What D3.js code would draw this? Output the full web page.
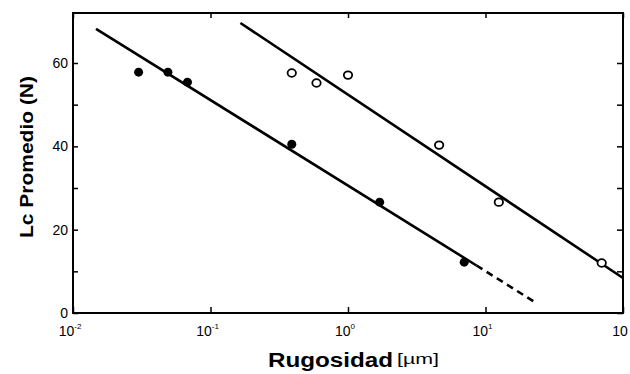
<!DOCTYPE html>
<html>
<head>
<meta charset="utf-8">
<script src="https://cdn.jsdelivr.net/npm/d3@7"></script>
<style>
  body { margin: 0; background: #fff; }
  #chart { width: 630px; height: 374px; }
  text { font-family: "Liberation Sans", Arial, sans-serif; fill: #000; }
</style>
</head>
<body>
<div id="chart"></div>
<script>
// roughness (um) vs average critical load Lc (N)
const filledX = [0.030, 0.049, 0.068, 0.39, 1.7, 7.0];
const filledY = [57.8, 57.8, 55.4, 40.5, 26.6, 12.2];
const openX = [0.39, 0.59, 1.0, 4.6, 12.5, 70];
const openY = [57.6, 55.2, 57.1, 40.3, 26.6, 12.0];

// fitted lines: [start, end] in data units
const fitFilledSolid = [[0.0147, 68.2], [8.6, 11.4]];
const fitFilledDash = [[8.6, 11.4], [23.4, 2.4]];
const fitOpen = [[0.165, 69.6], [100, 8.4]];

const xTicks = [0.01, 0.1, 1, 10, 100];
const xTickSup = ["-2", "-1", "0", "1", ""];
const yTicks = [0, 20, 40, 60];
const yMinor = [10, 30, 50];

var width = 630, height = 374;
var margin = { left: 73, right: 623, top: 13, bottom: 313 };

var svg = d3.select("#chart")
    .append("svg")
    .attr("width", width)
    .attr("height", height);

var xScale = d3.scaleLog().domain([0.01, 100]).range([margin.left, margin.right]);
var yScale = d3.scaleLinear().domain([0, 72]).range([margin.bottom, margin.top]);

// frame
svg.append("rect")
    .attr("x", margin.left).attr("y", margin.top)
    .attr("width", margin.right - margin.left).attr("height", margin.bottom - margin.top)
    .attr("fill", "none").attr("stroke", "#000").attr("stroke-width", 2);

// axes with inward ticks
svg.append("g")
    .attr("transform", `translate(0,${margin.bottom})`)
    .call(d3.axisTop(xScale).tickValues(xTicks).tickSize(6).tickFormat(""))
    .call(g => g.select(".domain").remove())
    .selectAll("line").attr("stroke-width", 1.5);

svg.append("g")
    .attr("transform", `translate(0,${margin.top})`)
    .call(d3.axisBottom(xScale).tickValues(xTicks).tickSize(5).tickFormat(""))
    .call(g => g.select(".domain").remove())
    .selectAll("line").attr("stroke-width", 1.5);

svg.append("g")
    .attr("transform", `translate(${margin.left},0)`)
    .call(d3.axisRight(yScale).tickValues(yTicks.concat(yMinor)).tickSize(5).tickFormat(""))
    .call(g => g.select(".domain").remove())
    .selectAll("line").attr("stroke-width", 1.5);

svg.append("g")
    .attr("transform", `translate(${margin.right},0)`)
    .call(d3.axisLeft(yScale).tickValues(yTicks.concat(yMinor)).tickSize(6).tickFormat(""))
    .call(g => g.select(".domain").remove())
    .selectAll("line").attr("stroke-width", 1.5);

// y tick labels
svg.selectAll(".ylab")
    .data(yTicks)
    .join("text")
    .attr("class", "ylab")
    .attr("x", margin.left - 5)
    .attr("y", d => yScale(d) + 5)
    .attr("text-anchor", "end")
    .attr("font-size", 14)
    .text(d => d);

// x tick labels 10^n
var xl = svg.selectAll(".xlab")
    .data(xTicks)
    .join("text")
    .attr("class", "xlab")
    .attr("x", d => xScale(d) - 3)
    .attr("y", margin.bottom + 23)
    .attr("text-anchor", "middle")
    .attr("font-size", 14);
xl.append("tspan").text("10");
xl.append("tspan")
    .attr("dy", -7)
    .attr("font-size", 8)
    .text((d, i) => xTickSup[i]);

// fitted lines
var line = d3.line()
    .x(d => xScale(d[0]))
    .y(d => yScale(d[1]));

svg.append("path").datum(fitFilledSolid).attr("d", line)
    .attr("stroke", "#000").attr("stroke-width", 2.6).attr("fill", "none");
svg.append("path").datum(fitFilledDash).attr("d", line)
    .attr("stroke", "#000").attr("stroke-width", 2.6).attr("fill", "none")
    .attr("stroke-dasharray", "7,5");
svg.append("path").datum(fitOpen).attr("d", line)
    .attr("stroke", "#000").attr("stroke-width", 2.6).attr("fill", "none");

// points
svg.selectAll(".filled")
    .data(filledX)
    .join("circle")
    .attr("class", "filled")
    .attr("cx", d => xScale(d))
    .attr("cy", (d, i) => yScale(filledY[i]))
    .attr("r", 4.5)
    .attr("fill", "#000");

svg.selectAll(".open")
    .data(openX)
    .join("ellipse")
    .attr("class", "open")
    .attr("cx", d => xScale(d))
    .attr("cy", (d, i) => yScale(openY[i]))
    .attr("rx", 4.2)
    .attr("ry", 3.8)
    .attr("fill", "#fff")
    .attr("stroke", "#000")
    .attr("stroke-width", 1.8);

// axis titles
svg.append("text")
    .attr("x", 268)
    .attr("y", 367)
    .attr("font-size", 20)
    .attr("font-weight", "bold")
    .attr("textLength", 125)
    .attr("lengthAdjust", "spacingAndGlyphs")
    .text("Rugosidad");
svg.append("text")
    .attr("x", 397)
    .attr("y", 364)
    .attr("font-size", 15)
    .attr("textLength", 42)
    .attr("lengthAdjust", "spacingAndGlyphs")
    .text("[\u00b5m]");

svg.append("text")
    .attr("transform", "translate(33,157) rotate(-90)")
    .attr("text-anchor", "middle")
    .attr("font-size", 19)
    .attr("font-weight", "bold")
    .attr("textLength", 162)
    .attr("lengthAdjust", "spacingAndGlyphs")
    .text("Lc Promedio (N)");
</script>
</body>
</html>
